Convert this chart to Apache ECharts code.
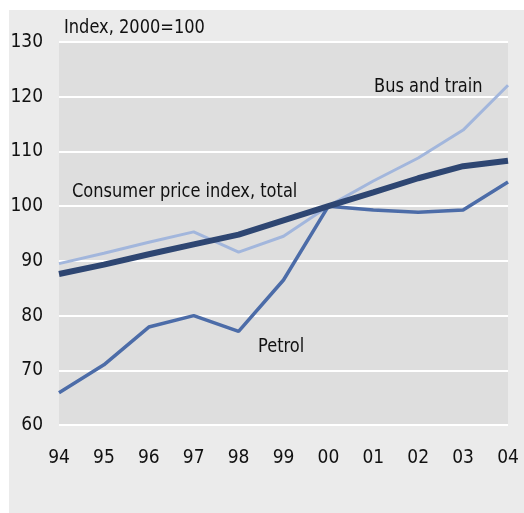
<!DOCTYPE html>
<html>
<head>
<meta charset="utf-8">
<script src="https://cdn.jsdelivr.net/npm/echarts@6/dist/echarts.min.js"></script>
<style>
  html, body { margin: 0; padding: 0; background: #fff; }
  #main { width: 524px; height: 513px; }
</style>
</head>
<body>
<div id="main"></div>
<script>
var years = ['94', '95', '96', '97', '98', '99', '00', '01', '02', '03', '04'];
var cpiTotal = [87.6, 89.3, 91.2, 93.0, 94.8, 97.4, 100, 102.5, 105.1, 107.3, 108.3];
var busTrain = [89.5, 91.4, 93.4, 95.3, 91.6, 94.5, 100, 104.6, 108.8, 113.9, 122.1];
var petrol = [65.9, 71.0, 77.9, 80.0, 77.1, 86.5, 100, 99.3, 98.9, 99.3, 104.4];
var yTicks = [60, 70, 80, 90, 100, 110, 120, 130];

var font = "'Liberation Sans Narrow', 'DejaVu Sans Condensed', sans-serif";

// series labels are placed by hand, like in the printed chart
function note(text, x, y) {
    return {
        type: 'text', x: x, y: y, scaleX: 0.95,
        style: { text: text, font: '19px ' + font, fill: '#111' }
    };
}

var myChart = echarts.init(document.getElementById('main'));
myChart.setOption({
    animation: false,
    backgroundColor: '#ffffff',
    graphic: [
        { type: 'rect', z: -10, shape: { x: 9, y: 10, width: 515, height: 503 }, style: { fill: '#ebebeb' } },
        note('Index, 2000=100', 64, 19),
        note('Bus and train', 374, 78),
        note('Consumer price index, total', 72, 183),
        note('Petrol', 258, 338)
    ],
    grid: {
        left: 59, right: 16, top: 42, bottom: 88,
        show: true, backgroundColor: '#dedede', borderWidth: 0
    },
    xAxis: {
        type: 'category',
        data: years,
        boundaryGap: false,
        axisLine: { show: false },
        axisTick: { show: false },
        splitLine: { show: false },
        axisLabel: { margin: 24, fontSize: 19, fontFamily: font, color: '#111' }
    },
    yAxis: {
        type: 'value',
        min: yTicks[0],
        max: yTicks[yTicks.length - 1],
        interval: 10,
        axisLine: { show: false },
        axisTick: { show: false },
        splitLine: { lineStyle: { color: '#ffffff', width: 2 } },
        axisLabel: { margin: 16, fontSize: 19, fontFamily: font, color: '#111' }
    },
    series: [
        {
            name: 'Bus and train', type: 'line', data: busTrain, symbol: 'none',
            lineStyle: { color: '#a2b6dc', width: 3 }, z: 2
        },
        {
            name: 'Petrol', type: 'line', data: petrol, symbol: 'none',
            lineStyle: { color: '#4c6ca8', width: 3.5 }, z: 3
        },
        {
            name: 'Consumer price index, total', type: 'line', data: cpiTotal, symbol: 'none',
            lineStyle: { color: '#2e4672', width: 6 }, z: 4
        }
    ]
});
</script>
</body>
</html>
